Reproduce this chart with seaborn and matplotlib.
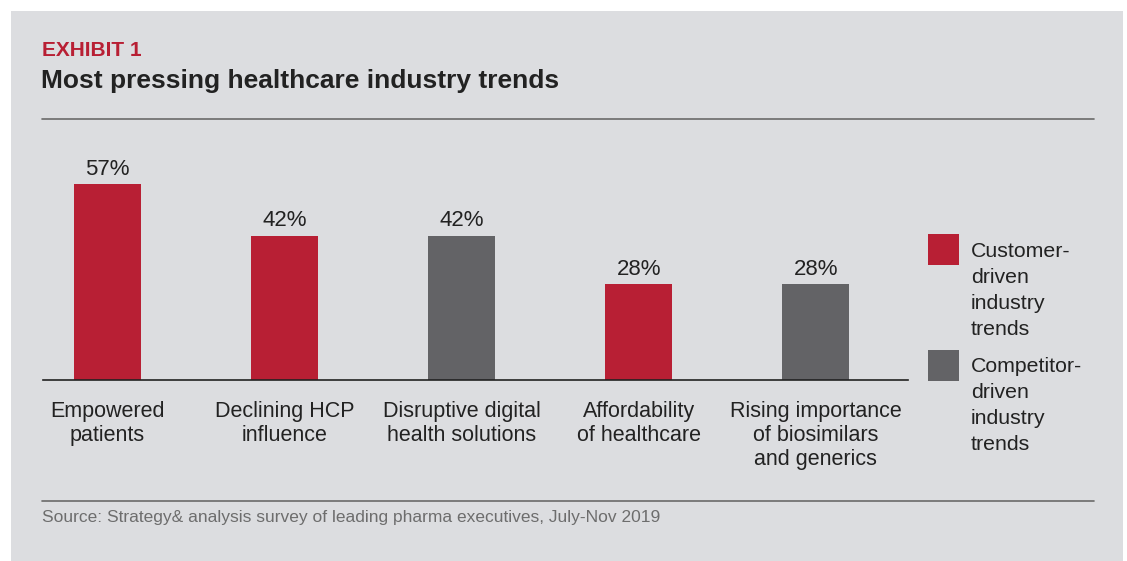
import matplotlib
matplotlib.use("Agg")
import matplotlib.pyplot as plt
from matplotlib.patches import Rectangle
from matplotlib.lines import Line2D
import seaborn as sns
import pandas as pd

# ---- data ----
categories = [
    "Empowered\npatients",
    "Declining HCP\ninfluence",
    "Disruptive digital\nhealth solutions",
    "Affordability\nof healthcare",
    "Rising importance\nof biosimilars\nand generics",
]
values = [57, 42, 42, 28, 28]
drivers = ["Customer", "Customer", "Competitor", "Customer", "Competitor"]
value_labels = ["57%", "42%", "42%", "28%", "28%"]
legend_labels = ["Customer-\ndriven\nindustry\ntrends", "Competitor-\ndriven\nindustry\ntrends"]
exhibit = "EXHIBIT 1"
title = "Most pressing healthcare industry trends"
source = "Source: Strategy& analysis survey of leading pharma executives, July-Nov 2019"

RED = "#b81f34"
GRAY = "#636366"
BG = "#dcdde0"
TXT = "#222222"
palette = {"Customer": RED, "Competitor": GRAY}

sns.set_style("white")
plt.rcParams["font.family"] = ["Liberation Sans", "DejaVu Sans"]

W, H = 1127, 561
fig = plt.figure(figsize=(W / 100, H / 100), dpi=100, facecolor="white")

def fx(px):
    return px / W

def fy(py):
    return 1 - py / H

# panel background
fig.patches.append(Rectangle((fx(11), 0), fx(1123) - fx(11), fy(11), transform=fig.transFigure,
                             facecolor=BG, edgecolor="none", zorder=-5))

# axes: baseline at y=380px, x from 43 to 908 px
px_per_unit = 196 / 57.0
ymax = 62
ax_h = ymax * px_per_unit
ax = fig.add_axes([fx(43), fy(380), fx(908) - fx(43), ax_h / H])
ax.set_facecolor("none")
ax.set_zorder(2)

df = pd.DataFrame({"category": categories, "value": values, "driver": drivers})
sns.barplot(data=df, x="category", y="value", hue="driver", palette=palette, dodge=False,
            width=0.378, saturation=1, legend=False, ax=ax, order=categories,
            edgecolor="none", linewidth=0)

ax.set_xlim(-0.364, 4.52)
ax.set_ylim(0, ymax)
for s in ["top", "right", "left"]:
    ax.spines[s].set_visible(False)
ax.spines["bottom"].set_color(TXT)
ax.spines["bottom"].set_linewidth(1.2)
ax.spines["bottom"].set_zorder(5)
ax.set_yticks([])
ax.set_xlabel("")
ax.set_ylabel("")
ax.tick_params(axis="x", length=0, pad=15, labelsize=15.5, labelcolor=TXT)
for t in ax.get_xticklabels():
    t.set_linespacing(1.2)

# value labels
for i, (v, lab) in enumerate(zip(values, value_labels)):
    ax.annotate(lab, (i, v), xytext=(0, 3), textcoords="offset points", ha="center", va="bottom",
                fontsize=16, color=TXT, annotation_clip=False)

# header
fig.text(fx(42), fy(56), exhibit, fontsize=15, fontweight="bold", color=RED, va="baseline")
fig.text(fx(41), fy(88), title, fontsize=19, fontweight="bold", color=TXT, va="baseline")
fig.add_artist(Line2D([fx(42), fx(1094)], [fy(119), fy(119)], color="#6a6a6a", lw=1.2))
fig.add_artist(Line2D([fx(42), fx(1094)], [fy(501), fy(501)], color="#6a6a6a", lw=1.2))
fig.text(fx(42), fy(522), source, fontsize=12.5, color="#6d6d6d", va="baseline")

# legend
for (col, lab, top, off) in [(RED, legend_labels[0], 234, 8), (GRAY, legend_labels[1], 350, 7)]:
    fig.patches.append(Rectangle((fx(928), fy(top + 31)), fx(31), 31 / H, transform=fig.transFigure,
                                 facecolor=col, edgecolor="none"))
    fig.text(fx(971), fy(top + off), lab, fontsize=15.3, color=TXT, va="top", linespacing=1.47,
             ha="left")

fig.savefig("out.png", dpi=100, facecolor="white")
